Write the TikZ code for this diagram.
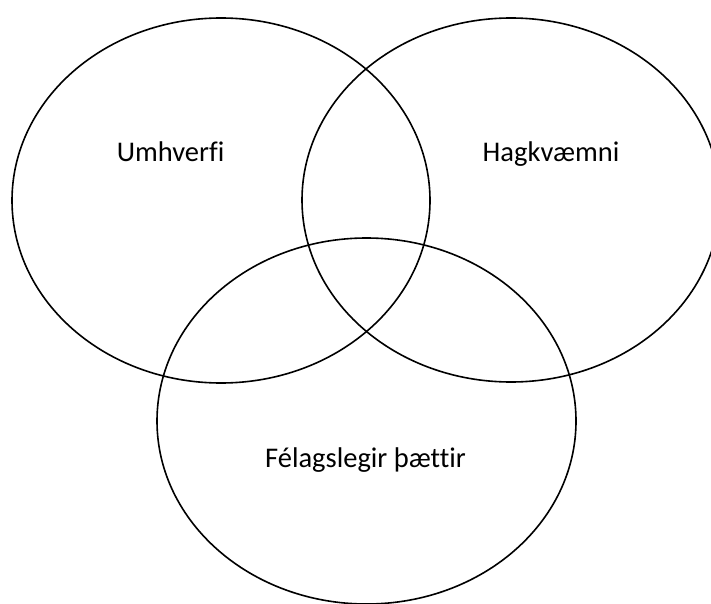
\documentclass[tikz,border=0pt]{standalone}
\usepackage{fontspec}
\setmainfont[Ligatures=NoCommon]{Carlito}
\begin{document}
\begin{tikzpicture}[x=1pt, y=-1pt]
\tikzset{
  ring/.style={draw, line width=1.6pt},
  lbl/.style={anchor=base, font=\fontsize{28.5}{34}\selectfont, inner sep=0pt}
}
\useasboundingbox (0,0) rectangle (711,604);
\clip (0,0) rectangle (711,604);
\coordinate (cumh) at (221,200.5);
\coordinate (chag) at (511,200);
\coordinate (cfel) at (366.5,421);
\draw[ring] (cumh) ellipse [x radius=209, y radius=182.5];
\draw[ring] (chag) ellipse [x radius=209, y radius=182];
\draw[ring] (cfel) ellipse [x radius=209.5, y radius=183];
\node[lbl] (umh) at (170.5,161) {Umhverfi};
\node[lbl] (hag) at (551,161) {Hagkvæmni};
\node[lbl] (fel) at (365.5,467) {Félagslegir þættir};
\end{tikzpicture}
\end{document}
